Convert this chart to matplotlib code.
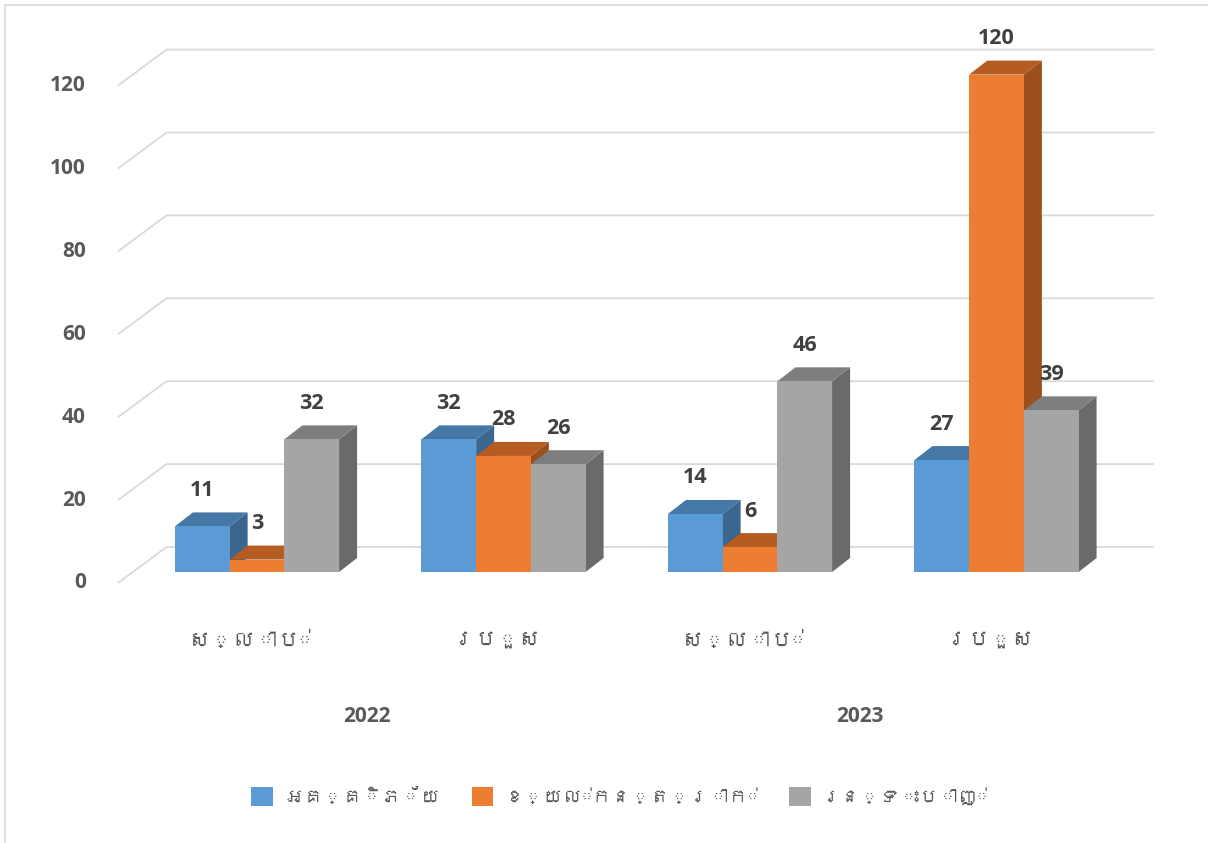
"""Clustered 3-D style column chart: disaster casualties by year (Khmer labels)."""
import matplotlib

matplotlib.use("Agg")
import matplotlib.pyplot as plt
from matplotlib import font_manager
from matplotlib.font_manager import FontProperties
from matplotlib.ft2font import FT2Font
from matplotlib.patches import Patch, Polygon, Rectangle

# --- data -----------------------------------------------------------------
categories = ["ស្លាប់", "របួស", "ស្លាប់", "របួស"]
years = ["2022", "2023"]
series_names = ["អគ្គិភ័យ", "ខ្យល់កន្ត្រាក់", "រន្ទះបាញ់"]
fire = [11, 32, 14, 27]
storm = [3, 28, 6, 120]
lightning = [32, 26, 46, 39]
yticks = [0, 20, 40, 60, 80, 100, 120]

# front / top / side shades per series
FRONT = ["#5b9bd5", "#ed7d31", "#a5a5a5"]
TOP = ["#4577a7", "#b45c22", "#7e7e7e"]
SIDE = ["#3b6690", "#9a4f1d", "#6a6a6a"]
GRID = "#d9d9d9"
TICK = "#595959"
LABEL = "#404040"


def _khmer_family():
    for path in font_manager.findSystemFonts():
        try:
            if 0x1780 in FT2Font(path).get_charmap():
                return font_manager.FontProperties(fname=path).get_name()
        except Exception:
            continue
    return None


LATIN = ["Open Sans", "DejaVu Sans"]
kh = _khmer_family()
KHMER = [kh] + LATIN if kh else LATIN
plt.rcParams["font.family"] = LATIN

# --- geometry (x in category units, y in value units) ---------------------
W, H = 1208, 843
PX_X = 246.5          # pixels per category
PX_Y = 4.145          # pixels per value unit
X0, Y0 = 257, 572     # pixel position of category 0 / value 0 (bar front base)
BAR_W = 0.222
DEPTH_X, DEPTH_Y = 18 / PX_X, 14 / PX_Y          # bar top/side depth
FRONT_X, FRONT_Y = -139 / PX_X, -11 / PX_Y       # floor front edge
BACK_X, BACK_Y = -90.5 / PX_X, 25 / PX_Y         # floor back edge
GRID_END = (1154 - X0) / PX_X

fig = plt.figure(figsize=(W / 100, H / 100), dpi=100)
ax = fig.add_axes([0, 0, 1, 1])
ax.set_xlim(-X0 / PX_X, (W - X0) / PX_X)
ax.set_ylim((Y0 - H) / PX_Y, Y0 / PX_Y)
ax.set_axis_off()

fig.patches.append(Rectangle((5 / W, -0.02), 1.05, 1 - 5 / H + 0.02,
                             transform=fig.transFigure, fill=False,
                             edgecolor="#d9d9d9", lw=1.2, zorder=0))

# gridlines with the receding floor segment, plus value ticks
for v in yticks:
    ax.plot([FRONT_X, BACK_X, GRID_END], [v + FRONT_Y, v + BACK_Y, v + BACK_Y],
            color=GRID, lw=1.3, zorder=1, solid_capstyle="butt")
    ax.text(FRONT_X - 32 / PX_X, v + FRONT_Y, str(v), ha="right", va="center",
            fontsize=15, color=TICK, fontweight="bold")

# bars: side + top faces, then front face; later bars cover earlier sides
series = [fire, storm, lightning]
z = 2
for i in range(len(categories)):
    for s, vals in enumerate(series):
        v = vals[i]
        x = i + (s - 1) * BAR_W - BAR_W / 2
        side = [(x + BAR_W, 0), (x + BAR_W + DEPTH_X, DEPTH_Y),
                (x + BAR_W + DEPTH_X, v + DEPTH_Y), (x + BAR_W, v)]
        top = [(x, v), (x + DEPTH_X, v + DEPTH_Y),
               (x + BAR_W + DEPTH_X, v + DEPTH_Y), (x + BAR_W, v)]
        ax.add_patch(Polygon(side, closed=True, facecolor=SIDE[s],
                             edgecolor="none", zorder=z))
        ax.add_patch(Polygon(top, closed=True, facecolor=TOP[s],
                             edgecolor="none", zorder=z))
        ax.bar(x, v, width=BAR_W, bottom=0, align="edge", color=FRONT[s],
               edgecolor="none", zorder=z + 0.5)
        ax.text(x + BAR_W / 2, v + DEPTH_Y + 22 / PX_Y, str(v), ha="center",
                va="center", fontsize=15.5, color=LABEL, fontweight="bold",
                zorder=40)
        z += 1

# category and year labels along the front edge
for i, cat in enumerate(categories):
    ax.text(i - 7 / PX_X, -68 / PX_Y, cat, ha="center", va="center",
            fontsize=16, color=TICK, family=KHMER, fontweight="bold")
for k, yr in enumerate(years):
    ax.text(2 * k + 0.5 - 13 / PX_X, -145 / PX_Y, yr, ha="center",
            va="center", fontsize=15, color=TICK, fontweight="bold")

handles = [Patch(facecolor=c, edgecolor="none") for c in FRONT]
fig.legend(handles, series_names, loc="center", bbox_to_anchor=(0.513, 0.055),
           ncol=3, frameon=False, labelcolor=TICK,
           prop=FontProperties(family=KHMER, size=14, weight="bold"),
           handlelength=1.1, handleheight=1.1, columnspacing=1.6,
           handletextpad=0.6)

fig.savefig("out.png", dpi=100, facecolor="white")
